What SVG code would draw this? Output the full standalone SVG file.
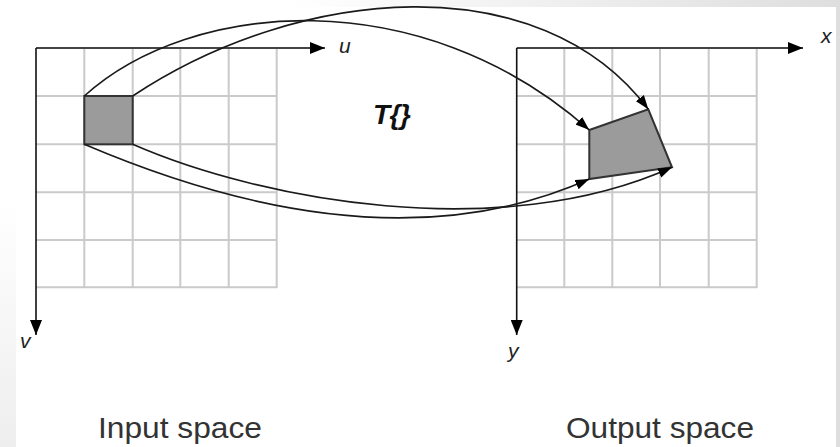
<svg xmlns="http://www.w3.org/2000/svg" width="840" height="447" viewBox="0 0 840 447">
<defs>
<linearGradient id="topband" x1="0" y1="0" x2="1" y2="0">
<stop offset="0" stop-color="#ffffff"/>
<stop offset="1" stop-color="#dedede"/>
</linearGradient>
<linearGradient id="leftband" x1="0" y1="0" x2="0" y2="1">
<stop offset="0" stop-color="#ffffff"/>
<stop offset="1" stop-color="#eeeeee"/>
</linearGradient>
<marker id="ah" viewBox="0 0 14 10" refX="14" refY="5" markerWidth="14" markerHeight="10" markerUnits="userSpaceOnUse" orient="auto">
<path d="M0,0 L14,5 L0,10 Z" fill="#000"/>
</marker>
<marker id="axh" viewBox="0 0 15 12" refX="15" refY="6" markerWidth="15" markerHeight="12" markerUnits="userSpaceOnUse" orient="auto">
<path d="M0,0 L15,6 L0,12 Z" fill="#000"/>
</marker>
</defs>
<style>
.grid{stroke:#cacaca;stroke-width:2;fill:none}
.axis{stroke:#444;stroke-width:2;fill:none}
.axisdown{stroke:#111;stroke-width:1.6;fill:none}
.conn{stroke:#1a1a1a;stroke-width:1.6;fill:none}
.shape{fill:#9b9b9b;stroke:#333;stroke-width:2;stroke-linejoin:miter}
.lbl{font-family:"Liberation Sans",Arial,sans-serif;font-style:italic;fill:#222;font-size:21px}
.cap{font-family:"Liberation Sans",Arial,sans-serif;fill:#333;font-size:29px}
</style>
<rect x="0" y="0" width="840" height="447" fill="#fff"/>
<rect x="290" y="0" width="550" height="7" fill="url(#topband)"/>
<rect x="0" y="200" width="16" height="247" fill="url(#leftband)"/>
<rect x="836" y="0" width="4" height="447" fill="#dedede"/>

<g id="input-space">
<path class="grid" d="M84.3,48V288M132.7,48V288M180.3,48V288M228.7,48V288M276.7,48V288M36,96H277M36,144.3H277M36,192.3H277M36,240H277M36,287.3H277"/>
<rect class="shape" x="84.3" y="96" width="48.4" height="48.3"/>
<path class="axis" d="M36,48H325" marker-end="url(#axh)"/>
<path class="axisdown" d="M36,48V335" marker-end="url(#axh)"/>
<text class="lbl" x="339" y="53">u</text>
<text class="lbl" x="20" y="348">v</text>
<text class="cap" x="98" y="438" textLength="164" lengthAdjust="spacingAndGlyphs">Input space</text>
</g>

<g id="output-space">
<path class="grid" d="M564.3,48V288M612.3,48V288M660,48V288M708.7,48V288M756.7,48V288M516.7,96H757M516.7,144.3H757M516.7,192.3H757M516.7,240H757M516.7,287.3H757"/>
<polygon class="shape" points="589.3,130 648.3,109.3 672,167.3 589.3,179"/>
<path class="axis" d="M516.7,48H803" marker-end="url(#axh)"/>
<path class="axisdown" d="M516.7,48V335" marker-end="url(#axh)"/>
<text class="lbl" x="821" y="43">x</text>
<text class="lbl" x="508" y="358">y</text>
<text class="cap" x="566" y="438" textLength="188" lengthAdjust="spacingAndGlyphs">Output space</text>
</g>

<g id="transform-label">
<text x="373" y="124" font-family="Liberation Sans, Arial, sans-serif" font-weight="bold" font-style="italic" font-size="28" fill="#111" letter-spacing="-0.5">T{}</text>
</g>

<g id="connectors">
<path class="conn" d="M84.3,96 C190,0 420,-20 589.3,130" marker-end="url(#ah)"/>
<path class="conn" d="M132.7,96 C300,-15 540,-35 648.3,109.3" marker-end="url(#ah)"/>
<path class="conn" d="M84.3,144.3 C250,215 430,250 589.3,179" marker-end="url(#ah)"/>
<path class="conn" d="M132.7,144.3 C260,200 500,245 672,167.3" marker-end="url(#ah)"/>
</g>
</svg>
